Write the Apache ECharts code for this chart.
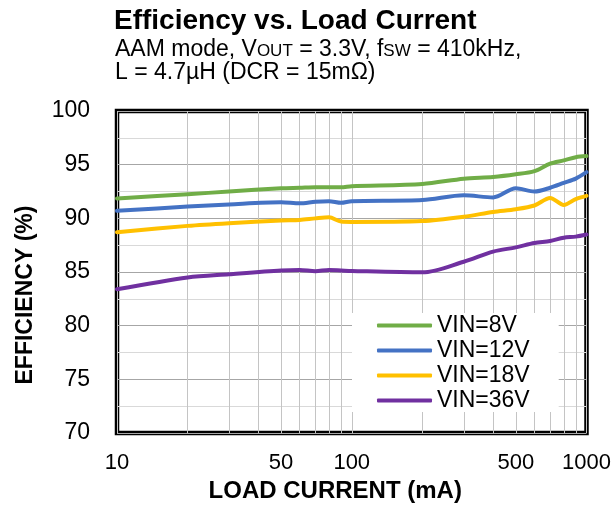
<!DOCTYPE html>
<html>
<head>
<meta charset="utf-8">
<script src="https://cdn.jsdelivr.net/npm/echarts@6/dist/echarts.min.js"></script>
<style>
  html, body { margin: 0; padding: 0; background: #fff; }
  #chart { width: 615px; height: 508px; }
</style>
</head>
<body>
<div id="chart"></div>
<script>
// Load current in mA (log axis) and efficiency in % for each input voltage
const loadCurrent = [10, 20, 30, 50, 60, 70, 80, 90, 100, 200, 300, 400, 500, 600, 700, 800, 900, 1000];
const eff8V  = [91.85, 92.25, 92.5, 92.8, 92.85, 92.9, 92.9, 92.9, 93.0, 93.2, 93.7, 93.85, 94.1, 94.4, 95.1, 95.4, 95.7, 95.8];
const eff12V = [90.7, 91.1, 91.3, 91.5, 91.4, 91.55, 91.6, 91.45, 91.6, 91.7, 92.15, 91.95, 92.8, 92.5, 92.85, 93.3, 93.7, 94.3];
const eff18V = [88.7, 89.3, 89.55, 89.8, 89.85, 90.0, 90.1, 89.7, 89.67, 89.75, 90.15, 90.6, 90.85, 91.2, 91.9, 91.25, 91.8, 92.1];
const eff36V = [83.4, 84.5, 84.8, 85.15, 85.2, 85.07, 85.2, 85.15, 85.1, 84.97, 85.96, 86.9, 87.3, 87.7, 87.9, 88.2, 88.3, 88.5];

const seriesNames  = ['VIN=8V', 'VIN=12V', 'VIN=18V', 'VIN=36V'];
const seriesColors = ['#70ad47', '#4472c4', '#ffc000', '#7030a0'];

// Axis ticks
const xLabelValues = [10, 50, 100, 500, 1000];
const xGridValues  = [10, 20, 30, 40, 50, 60, 70, 80, 90, 100, 200, 300, 400, 500, 600, 700, 800, 900, 1000];
const yMin = 70, yMax = 100, yStep = 5;

const FONT = '"Liberation Sans", Arial, Helvetica, sans-serif';

const allValues = [eff8V, eff12V, eff18V, eff36V];

const chart = echarts.init(document.getElementById('chart'), null, { renderer: 'canvas' });

chart.setOption({
  backgroundColor: '#fff',
  animation: false,
  textStyle: { fontFamily: FONT, color: '#000' },
  title: [
    {
      text: 'Efficiency vs. Load Current',
      left: 114, top: 7, padding: 0,
      textStyle: { fontFamily: FONT, fontSize: 28, fontWeight: 'bold', color: '#000' }
    },
    {
      text: 'AAM mode, V{s|OUT} = 3.3V, f{s|SW} = 410kHz,',
      left: 115, top: 38, padding: 0,
      textStyle: {
        fontFamily: FONT, fontSize: 23, fontWeight: 'normal', color: '#000',
        rich: { s: { fontFamily: FONT, fontSize: 17, color: '#000', verticalAlign: 'bottom', padding: [0, 0, 1, 0] } }
      }
    },
    {
      text: 'L = 4.7µH (DCR = 15mΩ)',
      left: 115, top: 61, padding: 0,
      textStyle: { fontFamily: FONT, fontSize: 23, fontWeight: 'normal', color: '#000' }
    }
  ],
  grid: {
    left: 117, right: 28.5, top: 111, bottom: 71,
    show: true, borderColor: '#000', borderWidth: 4.5, backgroundColor: '#fff'
  },
  legend: {
    orient: 'vertical',
    left: 352, top: 313,
    padding: [1, 29, 0, 25],
    backgroundColor: '#fff',
    icon: 'roundRect',
    itemWidth: 55, itemHeight: 4, itemGap: 2,
    textStyle: { fontFamily: FONT, fontSize: 23, color: '#000' },
    data: seriesNames
  },
  xAxis: {
    type: 'log', logBase: 10, min: 10, max: 1000,
    name: 'LOAD CURRENT (mA)',
    nameLocation: 'middle', nameGap: 43,
    nameTextStyle: { fontFamily: FONT, fontSize: 24, fontWeight: 'bold', color: '#000', padding: [0, 33, 0, 0] },
    axisLine: { show: false },
    axisTick: { show: false, customValues: xGridValues },
    axisLabel: {
      customValues: xLabelValues, margin: 19,
      fontFamily: FONT, fontSize: 22, color: '#000',
      formatter: v => String(Math.round(v))
    },
    splitLine: { show: true, lineStyle: { color: '#c4c4c4', width: 1 } }
  },
  yAxis: {
    type: 'value', min: yMin, max: yMax, interval: yStep,
    name: 'EFFICIENCY (%)',
    nameLocation: 'middle', nameGap: 80, nameRotate: 90,
    nameTextStyle: { fontFamily: FONT, fontSize: 23, fontWeight: 'bold', color: '#000', padding: [0, 46, 0, 0] },
    axisLine: { show: false },
    axisTick: { show: false },
    axisLabel: { margin: 27, fontFamily: FONT, fontSize: 23, color: '#000' },
    splitLine: { show: true, lineStyle: { color: '#a6a6a6', width: 1 } },
    minorTick: { show: false, splitNumber: 2 },
    minorSplitLine: { show: true, lineStyle: { color: '#d9d9d9', width: 1 } }
  },
  series: seriesNames.map((name, i) => ({
    name,
    type: 'line',
    smooth: 0.3,
    symbol: 'none',
    color: seriesColors[i],
    lineStyle: { width: 4, color: seriesColors[i], cap: 'round', join: 'round' },
    data: loadCurrent.map((x, k) => [x, allValues[i][k]]),
    z: 3
  }))
});
</script>
</body>
</html>
